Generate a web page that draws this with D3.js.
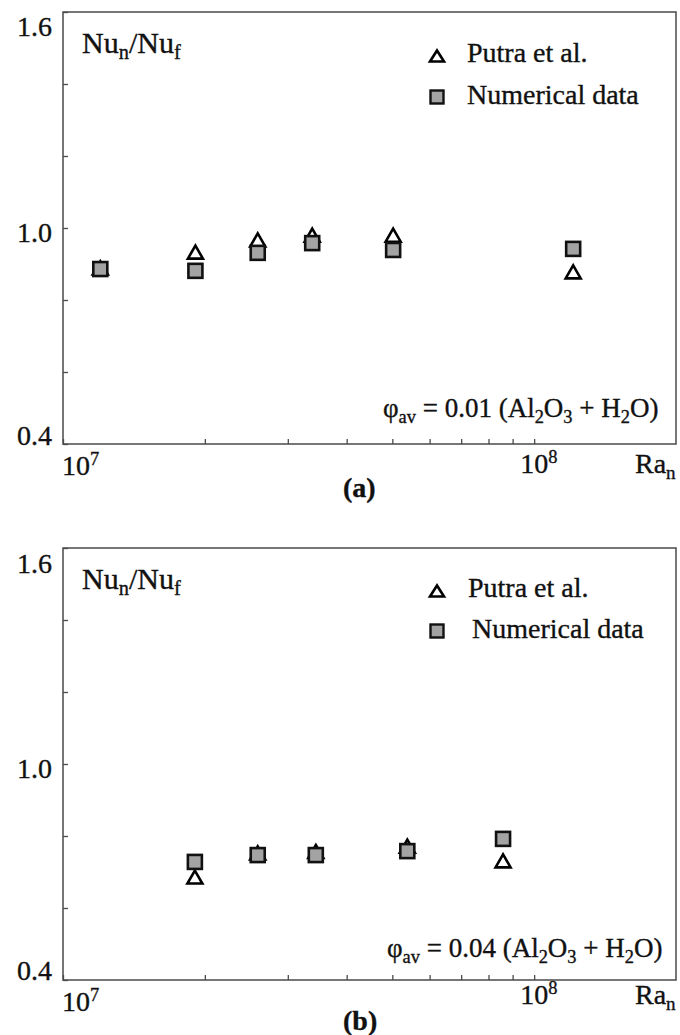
<!DOCTYPE html>
<html><head><meta charset="utf-8">
<script src="https://cdn.jsdelivr.net/npm/d3@7"></script>
<style>
body{margin:0;background:#fff}
svg{display:block}
text{font-family:"Liberation Serif","Times New Roman",serif;fill:#111;stroke:#111;stroke-width:0.35px}
</style>
</head><body>
<svg id="fig" width="680" height="1035"></svg>
<script>
// Panel (a): phi_av = 0.01 — Rayleigh numbers and Nu_n/Nu_f ratios
const raA = [1.2e7, 1.91e7, 2.59e7, 3.38e7, 5.02e7, 1.21e8];
const putraA = [0.889, 0.933, 0.967, 0.98, 0.98, 0.878];
const numericalA = [0.886, 0.881, 0.931, 0.958, 0.939, 0.942];

// Panel (b): phi_av = 0.04
const raB = [1.905e7, 2.59e7, 3.44e7, 5.38e7, 8.59e7];
const putraB = [0.686, 0.753, 0.757, 0.772, 0.731];
const numericalB = [0.728, 0.747, 0.747, 0.758, 0.792];

// Axes
const yTicks = [0.4, 0.6, 0.8, 1.0, 1.2, 1.4, 1.6];
const yTickLabels = ["0.4", "1.0", "1.6"];
const xTicks = [1e7, 2e7, 3e7, 4e7, 5e7, 6e7, 7e7, 8e7, 9e7, 1e8];
const xTickLabels = [{v: 1e7, exp: "7"}, {v: 1e8, exp: "8"}];
const seriesNames = ["Putra et al.", "Numerical data"];
const phiValues = ["0.01", "0.04"];
const panelTags = ["(a)", "(b)"];

const svg = d3.select("#fig");
const FS = 28;
const AXIS = "#4a4a4a";
const X0 = 63, X1 = 676, H = 432;

const x = d3.scaleLog().domain([1e7, 2e8]).range([X0, X1]);

// text placement for each panel (relative to panel top)
const layouts = [
  {top: 12,  yl: {"1.6": 24, "1.0": 14, "0.4": 1}, x7: 463, x8: 461, ra: 461, tag: 485,
   leg1: {x: 467, y: 50}, leg2: {x: 467, y: 92}, note: {x: 383, y: 405}},
  {top: 548, yl: {"1.6": 25, "1.0": 14, "0.4": 0}, x7: 463, x8: 456, ra: 456, tag: 482,
   leg1: {x: 468, y: 49}, leg2: {x: 472, y: 90}, note: {x: 387, y: 409}}
];

function triPath(cx, cy, w, h) {
  return `M${cx},${cy - h / 2}L${cx + w / 2},${cy + h / 2}L${cx - w / 2},${cy + h / 2}Z`;
}

function subText(sel, parts, size) {
  // parts: [text, isSub] pairs; subscripts drop and shrink
  let down = false;
  parts.forEach(([t, sub]) => {
    const ts = sel.append("tspan").text(t);
    if (sub && !down) { ts.attr("dy", 6); down = true; }
    else if (!sub && down) { ts.attr("dy", -6); down = false; }
    if (sub) ts.attr("font-size", size * 0.68);
  });
}

function drawPanel(i, ra, putra, numerical) {
  const L = layouts[i];
  const y = d3.scaleLinear().domain([0.4, 1.6]).range([L.top + H, L.top]);
  const g = svg.append("g");

  // frame
  g.append("rect").attr("x", X0).attr("y", L.top).attr("width", X1 - X0).attr("height", H)
    .attr("fill", "none").attr("stroke", AXIS).attr("stroke-width", 1.5);

  // inward ticks
  const ya = g.append("g").attr("transform", `translate(${X0},0)`)
    .call(d3.axisLeft(y).tickValues(yTicks).tickSize(-5).tickSizeOuter(0).tickFormat(""));
  const xa = g.append("g").attr("transform", `translate(0,${L.top + H})`)
    .call(d3.axisBottom(x).tickValues(xTicks).tickSize(-5).tickSizeOuter(0).tickFormat(""));
  [ya, xa].forEach(a => {
    a.select(".domain").remove();
    a.selectAll(".tick line").attr("stroke", AXIS).attr("stroke-width", 1.3);
  });

  // y tick labels
  g.selectAll(".ylab").data(yTickLabels).join("text")
    .attr("x", 52).attr("y", d => y(+d) + L.yl[d])
    .attr("text-anchor", "end").attr("font-size", FS).text(d => d);

  // x tick labels: 10^n
  xTickLabels.forEach((d, k) => {
    const t = g.append("text").attr("font-size", FS)
      .attr("x", k === 0 ? x(d.v) - 1 : x(d.v) - 14)
      .attr("y", L.top + (k === 0 ? L.x7 : L.x8));
    t.append("tspan").text("10");
    t.append("tspan").attr("font-size", FS * 0.66).attr("dy", -10).text(d.exp);
  });

  // x axis title
  subText(g.append("text").attr("x", 635).attr("y", L.top + L.ra).attr("font-size", FS),
    [["Ra", false], ["n", true]], FS);

  // y axis title
  subText(g.append("text").attr("x", 82).attr("y", L.top + 41).attr("font-size", 30),
    [["Nu", false], ["n", true], ["/Nu", false], ["f", true]], 30);

  // panel tag
  g.append("text").attr("x", 343).attr("y", L.top + L.tag).attr("font-size", FS)
    .attr("font-weight", "bold").text(panelTags[i]);

  // concentration note
  subText(g.append("text").attr("x", L.note.x).attr("y", L.top + L.note.y).attr("font-size", 27),
    [["\u03c6", false], ["av", true], [" = " + phiValues[i] + " (Al", false], ["2", true],
     ["O", false], ["3", true], [" + H", false], ["2", true], ["O)", false]], 27);

  // legend
  g.append("path").attr("d", triPath(437, L.top + L.leg1.y - 6, 14, 11))
    .attr("fill", "#fff").attr("stroke", "#000").attr("stroke-width", 2.6);
  g.append("text").attr("x", L.leg1.x).attr("y", L.top + L.leg1.y).attr("font-size", FS).text(seriesNames[0]);
  g.append("rect").attr("x", 437 - 6.5).attr("y", L.top + L.leg2.y - 13.5).attr("width", 13).attr("height", 13)
    .attr("fill", "#a3a3a3").attr("stroke", "#111").attr("stroke-width", 2.4);
  g.append("text").attr("x", L.leg2.x).attr("y", L.top + L.leg2.y).attr("font-size", FS).text(seriesNames[1]);

  // data markers: triangles beneath, squares on top
  g.selectAll(".tri").data(ra.map((r, k) => [r, putra[k]])).join("path")
    .attr("d", d => triPath(x(d[0]), y(d[1]), 15, 13))
    .attr("fill", "#fff").attr("stroke", "#000").attr("stroke-width", 2.6)
    .attr("stroke-linejoin", "miter");
  g.selectAll(".sq").data(ra.map((r, k) => [r, numerical[k]])).join("rect")
    .attr("x", d => x(d[0]) - 7).attr("y", d => y(d[1]) - 7)
    .attr("width", 14).attr("height", 14)
    .attr("fill", "#a3a3a3").attr("stroke", "#111").attr("stroke-width", 2.6);
}

drawPanel(0, raA, putraA, numericalA);
drawPanel(1, raB, putraB, numericalB);
</script>
</body></html>
